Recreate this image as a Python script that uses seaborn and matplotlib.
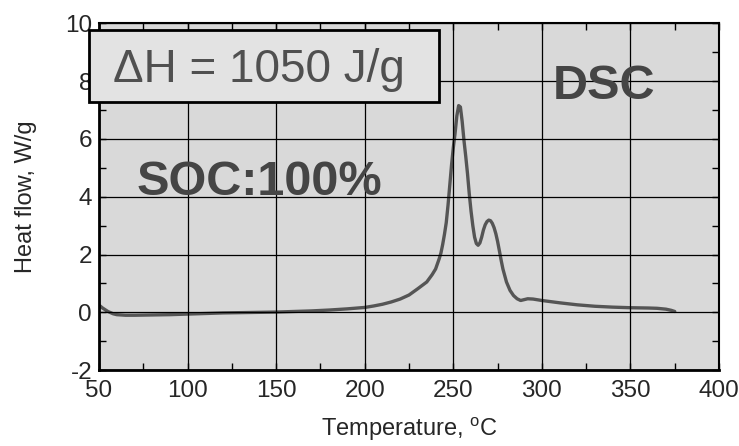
import matplotlib
matplotlib.use("Agg")
import matplotlib.pyplot as plt
import seaborn as sns
import pandas as pd
from matplotlib.ticker import MultipleLocator
from matplotlib.patches import Rectangle

temperature = [50, 52, 55, 58, 60, 65, 70, 80, 90, 100, 110, 120, 130, 140, 150,
               160, 170, 180, 190, 200, 205, 210, 215, 220, 225, 230, 235, 238,
               240, 242, 243, 244, 245, 246, 247, 248, 249, 250, 251, 252, 253,
               254, 255, 256, 257, 258, 259, 260, 261, 262, 263, 264, 265, 266,
               267, 268, 269, 270, 271, 272, 273, 274, 275, 276, 277, 278, 280,
               282, 284, 286, 288, 290, 292, 295, 300, 310, 320, 330, 340, 350,
               360, 365, 370, 373, 375]
heat_flow = [0.25, 0.15, 0.03, -0.05, -0.08, -0.1, -0.1, -0.09, -0.08, -0.06,
             -0.04, -0.02, -0.01, 0.0, 0.01, 0.03, 0.05, 0.08, 0.12, 0.17, 0.22,
             0.28, 0.36, 0.46, 0.6, 0.82, 1.05, 1.3, 1.5, 1.85, 2.05, 2.35, 2.7,
             3.1, 3.7, 4.4, 5.1, 5.7, 6.2, 6.8, 7.15, 7.1, 6.6, 5.95, 5.4, 4.8,
             4.1, 3.5, 3.0, 2.6, 2.38, 2.32, 2.4, 2.6, 2.85, 3.03, 3.14, 3.19,
             3.17, 3.08, 2.93, 2.72, 2.45, 2.13, 1.8, 1.5, 1.05, 0.76, 0.58, 0.47,
             0.41, 0.44, 0.47, 0.46, 0.41, 0.33, 0.26, 0.21, 0.18, 0.16, 0.15,
             0.14, 0.11, 0.07, 0.03]

x_label = "Temperature, $\\mathregular{^oC}$"
y_label = "Heat flow, W/g"
box_text = "\u0394H = 1050 J/g"
soc_text = "SOC:100%"
dsc_text = "DSC"

sns.set_style("ticks")
plt.rcParams['font.family'] = ['Liberation Sans', 'DejaVu Sans']
plt.rcParams['mathtext.fontset'] = 'custom'
plt.rcParams['mathtext.rm'] = 'Liberation Sans'
plt.rcParams['axes.unicode_minus'] = False

df = pd.DataFrame({"T": temperature, "Q": heat_flow})

fig = plt.figure(figsize=(7.39, 4.46), dpi=100)
ax = fig.add_axes([0.134, 0.170, 0.839, 0.778])
ax.set_facecolor("#d9d9d9")

sns.lineplot(data=df, x="T", y="Q", ax=ax, color="#555555", lw=2.4, sort=False)

ax.set_xlim(50, 400)
ax.set_ylim(-2, 10)
ax.xaxis.set_major_locator(MultipleLocator(50))
ax.xaxis.set_minor_locator(MultipleLocator(25))
ax.yaxis.set_major_locator(MultipleLocator(2))
ax.yaxis.set_minor_locator(MultipleLocator(1))
ax.grid(True, which="major", color="black", lw=0.9)
ax.set_axisbelow(False)
ax.tick_params(which="both", direction="in", top=True, right=True,
               labelsize=17.5, length=5, width=1, color="black")
ax.tick_params(axis="x", pad=7)
ax.tick_params(axis="y", pad=5)
for side in ["left", "bottom"]:
    ax.spines[side].set_linewidth(2)
for side in ["top", "right"]:
    ax.spines[side].set_linewidth(1.5)
for s in ax.spines.values():
    s.set_color("black")

ax.set_xlabel(x_label, fontsize=17, labelpad=10)
ax.set_ylabel(y_label, fontsize=17, labelpad=20)

box = Rectangle((-0.016, 0.772), 0.564, 0.208, transform=ax.transAxes,
                facecolor="#e3e3e3", edgecolor="black", lw=2, clip_on=False,
                zorder=5)
ax.add_patch(box)
ax.text(0.258, 0.830, box_text, transform=ax.transAxes, fontsize=33,
        color="#505050", ha="center", va="baseline", zorder=6)
ax.text(0.258, 0.504, soc_text, transform=ax.transAxes, fontsize=35,
        fontweight="bold", color="#454545", ha="center", va="baseline", zorder=6)
ax.text(0.815, 0.781, dsc_text, transform=ax.transAxes, fontsize=35,
        fontweight="bold", color="#454545", ha="center", va="baseline", zorder=6)

fig.savefig("out.png", dpi=100)
